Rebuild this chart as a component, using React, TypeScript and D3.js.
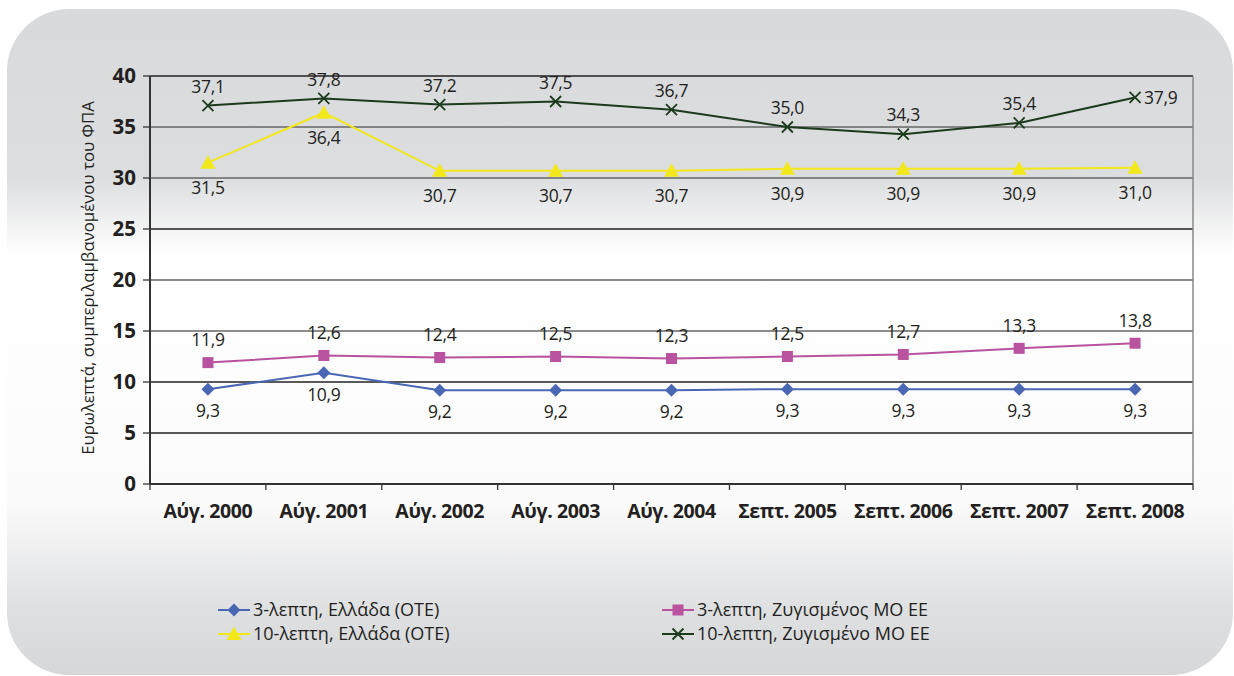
import React from "react";
import * as d3 from "d3";

const categories = ["Αύγ. 2000", "Αύγ. 2001", "Αύγ. 2002", "Αύγ. 2003", "Αύγ. 2004", "Σεπτ. 2005", "Σεπτ. 2006", "Σεπτ. 2007", "Σεπτ. 2008"];
const greece3 = [9.3, 10.9, 9.2, 9.2, 9.2, 9.3, 9.3, 9.3, 9.3];
const greece10 = [31.5, 36.4, 30.7, 30.7, 30.7, 30.9, 30.9, 30.9, 31.0];
const eu3 = [11.9, 12.6, 12.4, 12.5, 12.3, 12.5, 12.7, 13.3, 13.8];
const eu10 = [37.1, 37.8, 37.2, 37.5, 36.7, 35.0, 34.3, 35.4, 37.9];
const yTicks = [0, 5, 10, 15, 20, 25, 30, 35, 40];
const seriesNames = ["3-λεπτη, Ελλάδα (ΟΤΕ)", "10-λεπτη, Ελλάδα (ΟΤΕ)", "3-λεπτη, Ζυγισμένος ΜΟ ΕΕ", "10-λεπτη, Ζυγισμένο ΜΟ ΕΕ"];

const W = 1234, H = 676;
const M = { left: 150, right: 1193, top: 76, bottom: 484 };
const FONT = "'Open Sans', 'Noto Sans', sans-serif";

type Series = { name: string; values: number[]; color: string; marker: string; labelDy: number };
const series: Series[] = [
  { name: seriesNames[0], values: greece3, color: "#4a67b4", marker: "diamond", labelDy: 22 },
  { name: seriesNames[1], values: greece10, color: "#f2e81a", marker: "triangle", labelDy: 25 },
  { name: seriesNames[2], values: eu3, color: "#b9529f", marker: "square", labelDy: -23 },
  { name: seriesNames[3], values: eu10, color: "#1c3a1c", marker: "x", labelDy: -19 },
];

function Marker({ type, x, y, color }: { type: string; x: number; y: number; color: string }) {
  if (type === "diamond") {
    const s = 6.5;
    return <path d={`M${x},${y - s}L${x + s},${y}L${x},${y + s}L${x - s},${y}Z`} fill={color} />;
  }
  if (type === "square") {
    const s = 5.5;
    return <rect x={x - s} y={y - s} width={2 * s} height={2 * s} fill={color} />;
  }
  if (type === "triangle") {
    const s = 7.5;
    return <path d={`M${x},${y - s}L${x + s},${y + s * 0.8}L${x - s},${y + s * 0.8}Z`} fill={color} />;
  }
  const s = 5.5;
  return <path d={`M${x - s},${y - s}L${x + s},${y + s}M${x + s},${y - s}L${x - s},${y + s}`} stroke={color} strokeWidth={1.8} fill="none" />;
}

export default function App() {
  const x = d3.scaleBand<string>().domain(categories).range([M.left, M.right]);
  const y = d3.scaleLinear().domain([0, 40]).range([M.bottom, M.top]);
  const cx = (c: string) => (x(c) as number) + x.bandwidth() / 2;
  const line = d3.line<number>().x((_, i) => cx(categories[i])).y((v) => y(v));
  const fmt = (v: number) => v.toFixed(1).replace(".", ",");
  const gridColor = (t: number) => (t === 40 || t === 25 || t === 10 || t === 5 ? "#222" : "#666");

  const legendPos = [
    { x: 218, y: 610 },
    { x: 218, y: 634 },
    { x: 662, y: 610 },
    { x: 662, y: 634 },
  ];

  return (
    <svg width={W} height={H} style={{ position: "absolute", left: 0, top: 0 }} fontFamily={FONT}>
      <defs>
        <linearGradient id="bg" x1="0" y1="0" x2="0" y2="1">
          <stop offset="0" stopColor="#d9dadc" />
          <stop offset="0.25" stopColor="#dcdddf" />
          <stop offset="0.37" stopColor="#ffffff" />
          <stop offset="0.74" stopColor="#fbfbfb" />
          <stop offset="0.9" stopColor="#dfe0e2" />
          <stop offset="1" stopColor="#d6d7d9" />
        </linearGradient>
      </defs>
      <rect x={7} y={9} width={1226} height={666} rx={62} ry={62} fill="url(#bg)" />

      {/* gridlines */}
      {yTicks.filter((t) => t > 0).map((t) => (
        <line key={t} x1={M.left} x2={M.right} y1={y(t)} y2={y(t)} stroke={gridColor(t)} strokeWidth={1.3} />
      ))}
      <line x1={M.right} x2={M.right} y1={M.top} y2={M.bottom} stroke="#888" strokeWidth={1.5} />

      {/* axes */}
      <line x1={M.left} x2={M.left} y1={M.top} y2={M.bottom} stroke="#333" strokeWidth={2} />
      <line x1={M.left} x2={M.right} y1={M.bottom} y2={M.bottom} stroke="#333" strokeWidth={2} />
      {yTicks.map((t) => (
        <g key={t}>
          <line x1={M.left - 7} x2={M.left} y1={y(t)} y2={y(t)} stroke="#333" strokeWidth={1.3} />
          <text x={136} y={y(t)} dy="0.36em" textAnchor="end" fontSize={20.5} fontWeight={700} fill="#231f20">{t}</text>
        </g>
      ))}
      {categories.map((c, i) => (
        <line key={"tk" + i} x1={x(c) as number} x2={x(c) as number} y1={M.bottom} y2={M.bottom + 6} stroke="#333" strokeWidth={1.3} />
      ))}
      <line x1={M.right} x2={M.right} y1={M.bottom} y2={M.bottom + 6} stroke="#333" strokeWidth={1.3} />
      {categories.map((c) => (
        <text key={c} x={cx(c)} y={511} dy="0.36em" textAnchor="middle" fontSize={19.5} fontWeight={700} fill="#231f20" letterSpacing={-0.4}>{c}</text>
      ))}

      <text transform={`translate(88, ${(M.top + M.bottom) / 2 - 2}) rotate(-90)`} textAnchor="middle" dy="0.35em" fontSize={16.8} fill="#231f20">
        Ευρωλεπτά, συμπεριλαμβανομένου του ΦΠΑ
      </text>

      {/* series */}
      {series.map((s) => (
        <g key={s.name}>
          <path d={line(s.values) as string} fill="none" stroke={s.color} strokeWidth={2} />
          {s.values.map((v, i) => (
            <Marker key={i} type={s.marker} x={cx(categories[i])} y={y(v)} color={s.color} />
          ))}
          {s.values.map((v, i) => {
            const last = s.marker === "x" && i === s.values.length - 1;
            return (
              <text key={"l" + i} x={last ? cx(categories[i]) + 9 : cx(categories[i])} y={last ? y(v) : y(v) + s.labelDy} dy="0.36em"
                textAnchor={last ? "start" : "middle"} fontSize={17.5} fill="#231f20" letterSpacing={-0.3}>{fmt(v)}</text>
            );
          })}
        </g>
      ))}

      {/* legend */}
      {series.map((s, i) => {
        const p = legendPos[i];
        return (
          <g key={"lg" + i}>
            <line x1={p.x} x2={p.x + 32} y1={p.y} y2={p.y} stroke={s.color} strokeWidth={2} />
            <Marker type={s.marker} x={p.x + 16} y={p.y} color={s.color} />
            <text x={p.x + 35} y={p.y} dy="0.36em" fontSize={18} fill="#231f20">{s.name}</text>
          </g>
        );
      })}
    </svg>
  );
}
